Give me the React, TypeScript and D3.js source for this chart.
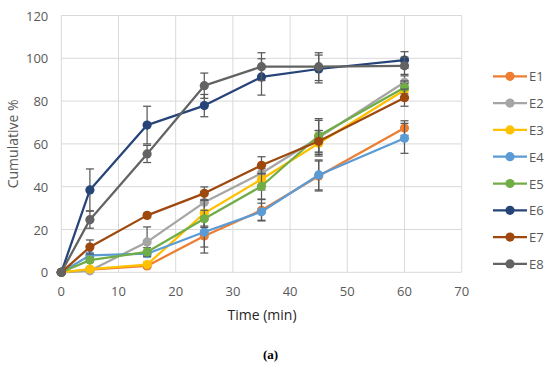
import React from "react";
import * as d3 from "d3";

const WIDTH = 550;
const HEIGHT = 368;
const MARGIN = { left: 61.3, right: 88.3, top: 15.5, bottom: 95.7 };

const times = [0, 5, 15, 25, 35, 45, 60];
const seriesNames = ["E1", "E2", "E3", "E4", "E5", "E6", "E7", "E8"];
const colors = ["#ED7D31", "#A5A5A5", "#FFC000", "#5B9BD5", "#70AD47", "#264478", "#9E480E", "#636363"];

const e1 = [0, 1.3, 3, 17, 29, 45, 67.4];
const e2 = [0, 0.7, 14.2, 32.7, 46.3, 63, 88.8];
const e3 = [0, 1.5, 3.6, 27.6, 43.5, 60.3, 85.2];
const e4 = [0, 7.9, 8.7, 18.8, 28.3, 45.5, 62.6];
const e5 = [0, 5.7, 9.5, 25, 40.2, 63.8, 86.4];
const e6 = [0, 38.5, 68.8, 77.9, 91.3, 95, 99.2];
const e7 = [0, 11.8, 26.6, 36.9, 50, 61.2, 81.6];
const e8 = [0, 24.6, 55.3, 87.2, 96.1, 96.1, 96.5];

const err1 = [0, 0.5, 1, 8, 5, 7, 3.4];
const err2 = [0, 0.5, 7, 5, 4, 8, 3];
const err3 = [0, 0.5, 1, 6, 5, 6, 3];
const err4 = [0, 1, 1, 7, 4, 7, 7];
const err5 = [0, 1, 2, 4, 6, 8, 3];
const err6 = [0, 9.8, 8.8, 5.2, 8.5, 6.5, 3.9];
const err7 = [0, 3.3, 1, 3, 4, 5, 4];
const err8 = [0, 4, 4, 5.9, 6.5, 6.5, 4];

const values = [e1, e2, e3, e4, e5, e6, e7, e8];
const errors = [err1, err2, err3, err4, err5, err6, err7, err8];

const xTicks = [0, 10, 20, 30, 40, 50, 60, 70];
const yTicks = [0, 20, 40, 60, 80, 100, 120];

const FONT = "'Open Sans', sans-serif";
const TEXT_COLOR = "#595959";
const GRID_COLOR = "#d9d9d9";
const ERR_COLOR = "#595959";

export default function App() {
  const x = d3.scaleLinear().domain([0, 70]).range([MARGIN.left, WIDTH - MARGIN.right]);
  const y = d3.scaleLinear().domain([0, 120]).range([HEIGHT - MARGIN.bottom, MARGIN.top]);

  const line = d3
    .line<number>()
    .x((_, i) => x(times[i]))
    .y((d) => y(d));

  const legendX = 493;
  const legendY0 = 76.3;
  const legendStep = 26.8;

  return (
    <svg
      width={WIDTH}
      height={HEIGHT}
      style={{ position: "absolute", left: 0, top: 0, background: "#fff" }}
    >
      {/* grid */}
      {xTicks.map((t) => (
        <line key={"gx" + t} x1={x(t)} x2={x(t)} y1={y(0)} y2={y(120)} stroke={GRID_COLOR} strokeWidth={1} />
      ))}
      {yTicks.map((t) => (
        <line key={"gy" + t} x1={x(0)} x2={x(70)} y1={y(t)} y2={y(t)} stroke={GRID_COLOR} strokeWidth={1} />
      ))}

      {/* tick labels */}
      {yTicks.map((t) => (
        <text key={"ty" + t} x={x(0) - 13} y={y(t)} textAnchor="end" dominantBaseline="central"
          fontFamily={FONT} fontSize={13} fill={TEXT_COLOR}>
          {t}
        </text>
      ))}
      {xTicks.map((t) => (
        <text key={"tx" + t} x={x(t)} y={y(0) + 18.5} textAnchor="middle" dominantBaseline="central"
          fontFamily={FONT} fontSize={13} fill={TEXT_COLOR}>
          {t}
        </text>
      ))}

      {/* axis titles */}
      <text x={262} y={320} textAnchor="middle" fontFamily={FONT} fontSize={14} fill="#262626">
        Time (min)
      </text>
      <text transform={`translate(18, ${(y(0) + y(120)) / 2}) rotate(-90)`} textAnchor="middle"
        fontFamily={FONT} fontSize={14} fill={TEXT_COLOR}>
        Cumulative %
      </text>
      <text x={270.5} y={359} textAnchor="middle" fontFamily="'Liberation Serif', serif" fontSize={13} fontWeight="bold" fill="#000">
        (a)
      </text>

      {/* series */}
      {values.map((vals, s) => (
        <g key={seriesNames[s]}>
          {vals.map((v, i) =>
            errors[s][i] > 0 ? (
              <g key={"e" + i} stroke={ERR_COLOR} strokeWidth={1.25}>
                <line x1={x(times[i])} x2={x(times[i])} y1={y(v - errors[s][i])} y2={y(v + errors[s][i])} />
                <line x1={x(times[i]) - 4} x2={x(times[i]) + 4} y1={y(v - errors[s][i])} y2={y(v - errors[s][i])} />
                <line x1={x(times[i]) - 4} x2={x(times[i]) + 4} y1={y(v + errors[s][i])} y2={y(v + errors[s][i])} />
              </g>
            ) : null
          )}
          <path d={line(vals) ?? ""} fill="none" stroke={colors[s]} strokeWidth={2.25} strokeLinejoin="round" />
          {vals.map((v, i) => (
            <circle key={"c" + i} cx={x(times[i])} cy={y(v)} r={4.6} fill={colors[s]} />
          ))}
        </g>
      ))}

      {/* legend */}
      {seriesNames.map((name, s) => {
        const ly = legendY0 + s * legendStep;
        return (
          <g key={"l" + name}>
            <line x1={legendX} x2={legendX + 34} y1={ly} y2={ly} stroke={colors[s]} strokeWidth={2.25} />
            <circle cx={legendX + 17} cy={ly} r={4.6} fill={colors[s]} />
            <text x={legendX + 36} y={ly} dominantBaseline="central" fontFamily={FONT} fontSize={13} fill={TEXT_COLOR}>
              {name}
            </text>
          </g>
        );
      })}
    </svg>
  );
}
